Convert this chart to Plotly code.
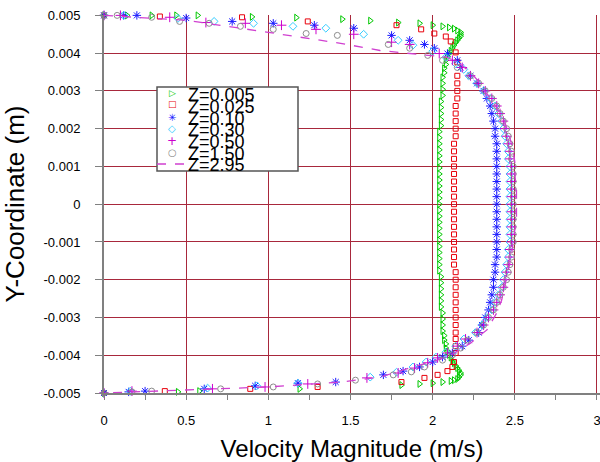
import plotly.graph_objects as go

# ---------------- data (velocity magnitude in m/s vs y-coordinate in m) ----------------
# shared core nodes for the z = 0.025 ... 1.50 profiles
y_core = [0.0034, 0.0032, 0.0030, 0.0028, 0.0026, 0.0024, 0.0022, 0.0020, 0.0018, 0.0016,
          0.0014, 0.0012, 0.0010, 0.0008, 0.0006, 0.0004, 0.0002, 0.0000, -0.0002, -0.0004,
          -0.0006, -0.0008, -0.0010, -0.0012, -0.0014, -0.0016, -0.0018, -0.0020, -0.0022, -0.0024,
          -0.0026, -0.0028, -0.0030, -0.0032, -0.0034]

# z = 0.005
green_top_y = [0.00500, 0.00500, 0.00500, 0.00500, 0.00500, 0.00496, 0.00494, 0.00490, 0.00486, 0.00481,
               0.00479, 0.00474, 0.00471, 0.00468, 0.00465, 0.00460, 0.00455, 0.00450, 0.00445, 0.00440,
               0.00434, 0.00428, 0.00421, 0.00414, 0.00406, 0.00399, 0.00390, 0.00381, 0.00370, 0.00360,
               0.00348, 0.00336]
green_top_v = [0.00, 0.14, 0.29, 0.44, 0.57, 0.90, 1.17, 1.45, 1.62, 1.79,
               1.92, 2.00, 2.06, 2.10, 2.13, 2.15, 2.17, 2.17, 2.17, 2.16,
               2.15, 2.14, 2.13, 2.12, 2.11, 2.10, 2.09, 2.08, 2.08, 2.07,
               2.07, 2.06]
green_core_y = [0.00320, 0.00304, 0.00288, 0.00272, 0.00256, 0.00240, 0.00224, 0.00208, 0.00192, 0.00176,
                0.00160, 0.00144, 0.00128, 0.00112, 0.00096, 0.00080, 0.00064, 0.00048, 0.00032, 0.00016,
                0.0,
                -0.00016, -0.00032, -0.00048, -0.00064, -0.00080, -0.00096, -0.00112, -0.00128, -0.00144, -0.00160,
                -0.00176, -0.00192, -0.00208, -0.00224, -0.00240, -0.00256, -0.00272, -0.00288, -0.00304, -0.00320]
green_core_v = [2.06, 2.06, 2.06, 2.05, 2.05, 2.05, 2.05, 2.05, 2.04, 2.04,
                2.04, 2.04, 2.04, 2.04, 2.04, 2.04, 2.04, 2.04, 2.04, 2.04,
                2.04,
                2.04, 2.04, 2.04, 2.04, 2.04, 2.04, 2.04, 2.04, 2.04, 2.04,
                2.04, 2.05, 2.05, 2.05, 2.05, 2.05, 2.05, 2.06, 2.06, 2.06]
green_bot_y = [-0.00336, -0.00348, -0.00360, -0.00370, -0.00381, -0.00390, -0.00399, -0.00406, -0.00414, -0.00421,
               -0.00428, -0.00434, -0.00440, -0.00447, -0.00452, -0.00458, -0.00463, -0.00466, -0.00468, -0.00471,
               -0.00474, -0.00476, -0.00479, -0.00489, -0.00495, -0.00497, -0.00500]
green_bot_v = [2.06, 2.07, 2.07, 2.08, 2.08, 2.09, 2.10, 2.11, 2.12, 2.13,
               2.14, 2.15, 2.16, 2.17, 2.17, 2.16, 2.15, 2.13, 2.11, 2.06,
               2.00, 1.92, 1.81, 1.19, 0.58, 0.45, 0.00]

# z = 0.025
red_top_y = [0.00500, 0.00497, 0.00495, 0.00484, 0.00474, 0.00463, 0.00452, 0.00444, 0.00431, 0.00402, 0.00376]
red_top_v = [0.00, 0.34, 0.84, 1.24, 1.78, 1.93, 2.01, 2.08, 2.11, 2.14, 2.15]
red_core_v = [2.15, 2.15, 2.15, 2.15, 2.14, 2.14, 2.14, 2.14, 2.14, 2.13,
              2.13, 2.13, 2.13, 2.13, 2.13, 2.13, 2.13, 2.13, 2.13, 2.13,
              2.13, 2.13, 2.13, 2.13, 2.13, 2.13, 2.14, 2.14, 2.14, 2.14,
              2.14, 2.14, 2.14, 2.14, 2.14]
red_bot_y = [-0.00357, -0.00376, -0.00394, -0.00418, -0.00431, -0.00442, -0.00452, -0.00460, -0.00471, -0.00484,
             -0.00489, -0.00495, -0.00500]
red_bot_v = [2.14, 2.14, 2.14, 2.13, 2.12, 2.09, 2.03, 1.95, 1.81, 1.30, 0.89, 0.37, 0.00]

# z = 0.10
blue_top_y = [0.00500, 0.00500, 0.00500, 0.00493, 0.00484, 0.00479, 0.00474, 0.00466, 0.00447, 0.00434,
              0.00423, 0.00413, 0.00399, 0.00381, 0.00362]
blue_top_v = [0.00, 0.12, 0.20, 0.50, 0.78, 1.03, 1.28, 1.52, 1.75, 1.86, 1.95, 2.01, 2.09, 2.15, 2.17]
blue_core_v = [2.23, 2.27, 2.31, 2.33, 2.35, 2.36, 2.37, 2.38, 2.38, 2.39,
               2.39, 2.39, 2.39, 2.39, 2.39, 2.39, 2.39, 2.39, 2.39, 2.39,
               2.39, 2.39, 2.39, 2.39, 2.39, 2.38, 2.38, 2.37, 2.37, 2.36,
               2.35, 2.34, 2.32, 2.30, 2.28]
blue_bot_y = [-0.00360, -0.00376, -0.00394, -0.00405, -0.00418, -0.00431, -0.00442, -0.00452, -0.00471, -0.00474,
              -0.00481, -0.00489, -0.00495, -0.00497, -0.00500]
blue_bot_v = [2.22, 2.18, 2.12, 2.06, 2.00, 1.92, 1.82, 1.70, 1.41, 1.18, 0.92, 0.61, 0.25, 0.15, 0.00]

# z = 0.30
cyan_top_y = [0.00500, 0.00500, 0.00492, 0.00484, 0.00479, 0.00471, 0.00466, 0.00450, 0.00434, 0.00421,
              0.00405, 0.00389, 0.00372, 0.00357]
cyan_top_v = [0.00, 0.12, 0.45, 0.67, 0.91, 1.15, 1.35, 1.58, 1.79, 1.88, 2.00, 2.08, 2.14, 2.19]
cyan_core_v = [2.22, 2.27, 2.31, 2.35, 2.38, 2.40, 2.42, 2.43, 2.44, 2.45,
               2.46, 2.46, 2.47, 2.47, 2.47, 2.47, 2.47, 2.47, 2.47, 2.47,
               2.47, 2.47, 2.47, 2.46, 2.46, 2.45, 2.44, 2.43, 2.42, 2.40,
               2.38, 2.36, 2.33, 2.30, 2.26]
cyan_bot_y = [-0.00357, -0.00376, -0.00392, -0.00405, -0.00418, -0.00431, -0.00445, -0.00458, -0.00474, -0.00481,
              -0.00487, -0.00495, -0.00500]
cyan_bot_v = [2.19, 2.14, 2.08, 2.02, 1.96, 1.88, 1.78, 1.62, 1.18, 0.93, 0.63, 0.16, 0.00]

# z = 0.50
mag_top_y = [0.00500, 0.00500, 0.00495, 0.00481, 0.00479, 0.00474, 0.00463, 0.00450, 0.00429, 0.00423,
             0.00399, 0.00381, 0.00362]
mag_top_v = [0.00, 0.10, 0.40, 0.62, 0.86, 1.08, 1.29, 1.52, 1.75, 1.86, 2.04, 2.12, 2.18]
mag_core_v = [2.23, 2.28, 2.32, 2.36, 2.39, 2.41, 2.43, 2.44, 2.45, 2.46,
              2.47, 2.47, 2.48, 2.48, 2.48, 2.48, 2.48, 2.48, 2.48, 2.48,
              2.48, 2.48, 2.48, 2.47, 2.47, 2.46, 2.45, 2.44, 2.43, 2.41,
              2.39, 2.37, 2.34, 2.31, 2.27]
mag_bot_y = [-0.00357, -0.00376, -0.00394, -0.00407, -0.00420, -0.00434, -0.00447, -0.00460, -0.00476, -0.00484,
             -0.00489, -0.00495, -0.00500]
mag_bot_v = [2.20, 2.15, 2.09, 2.03, 1.97, 1.89, 1.79, 1.60, 1.24, 0.98, 0.66, 0.17, 0.00]

# z = 1.50
gray_top_y = [0.00500, 0.00500, 0.00495, 0.00484, 0.00479, 0.00471, 0.00463, 0.00452, 0.00447, 0.00423,
              0.00413, 0.00394, 0.00381, 0.00362]
gray_top_v = [0.00, 0.08, 0.29, 0.46, 0.64, 0.83, 1.03, 1.23, 1.42, 1.73, 1.86, 1.97, 2.06, 2.15]
gray_core_v = [2.23, 2.28, 2.32, 2.36, 2.39, 2.41, 2.43, 2.45, 2.46, 2.47,
               2.48, 2.48, 2.49, 2.49, 2.49, 2.49, 2.49, 2.49, 2.49, 2.49,
               2.49, 2.49, 2.49, 2.48, 2.48, 2.47, 2.46, 2.45, 2.43, 2.41,
               2.39, 2.37, 2.34, 2.31, 2.27]
gray_bot_y = [-0.00360, -0.00381, -0.00399, -0.00413, -0.00431, -0.00444, -0.00452, -0.00466, -0.00476, -0.00484,
              -0.00489, -0.00495, -0.00497, -0.00500]
gray_bot_v = [2.21, 2.17, 2.12, 2.06, 1.95, 1.87, 1.76, 1.53, 1.30, 1.03, 0.71, 0.29, 0.17, 0.00]

# z = 2.95 (dashed line)
dash_y = [0.00500, 0.00487, 0.00455, 0.00426, 0.00407, 0.00397, 0.00389, 0.00370, 0.00349, 0.00325,
          0.00302, 0.00278, 0.00254, 0.00230, 0.00204, 0.00175, 0.00143, 0.00110, 0.00077, 0.00040,
          0.0, -0.00040, -0.00095, -0.00135, -0.00175, -0.00215, -0.00254, -0.00288, -0.00333, -0.00368,
          -0.00405, -0.00431, -0.00458, -0.00471, -0.00484, -0.00492, -0.00500]
dash_v = [0.00, 0.50, 1.00, 1.44, 1.68, 1.92, 2.09, 2.17, 2.23, 2.28,
          2.31, 2.36, 2.39, 2.43, 2.45, 2.47, 2.49, 2.50, 2.50, 2.51,
          2.51, 2.51, 2.49, 2.48, 2.46, 2.44, 2.42, 2.39, 2.33, 2.23,
          2.09, 1.88, 1.68, 1.44, 1.00, 0.50, 0.00]

series_names = ["Z=0.005", "Z=0.025", "Z=0.10", "Z=0.30", "Z=0.50", "Z=1.50", "Z=2.95"]
x_ticks = [0, 0.5, 1, 1.5, 2, 2.5, 3]
x_tick_text = ["0", "0.5", "1", "1.5", "2", "2.5", "3"]
y_ticks = [0.005, 0.004, 0.003, 0.002, 0.001, 0.0, -0.001, -0.002, -0.003, -0.004, -0.005]
y_tick_text = ["0.005", "0.004", "0.003", "0.002", "0.001", "0", "-0.001", "-0.002", "-0.003", "-0.004", "-0.005"]

# ---------------- figure ----------------
FONT = "Arial, 'Liberation Sans', sans-serif"
fig = go.Figure()


def add_markers(v, y, symbol, color, name, size=6):
    fig.add_trace(go.Scatter(
        x=v, y=y, mode="markers", name=name, cliponaxis=False, showlegend=False,
        marker=dict(symbol=symbol, size=size, color=color, line=dict(color=color, width=1)),
    ))


add_markers(green_top_v + green_core_v + green_bot_v, green_top_y + green_core_y + green_bot_y,
            "triangle-right-open", "#00c800", series_names[0])
add_markers(red_top_v + red_core_v + red_bot_v, red_top_y + y_core + red_bot_y,
            "square-open", "#e8000b", series_names[1], 5)
add_markers(blue_top_v + blue_core_v + blue_bot_v, blue_top_y + y_core + blue_bot_y,
            "asterisk-open", "#1a1aff", series_names[2], 7)
add_markers(cyan_top_v + cyan_core_v + cyan_bot_v, cyan_top_y + y_core + cyan_bot_y,
            "diamond-open", "#33ccff", series_names[3])
add_markers(mag_top_v + mag_core_v + mag_bot_v, mag_top_y + y_core + mag_bot_y,
            "cross-thin-open", "#cc00cc", series_names[4], 7)
add_markers(gray_top_v + gray_core_v + gray_bot_v, gray_top_y + y_core + gray_bot_y,
            "circle-open", "#8c8c8c", series_names[5])
fig.add_trace(go.Scatter(
    x=dash_v, y=dash_y, mode="lines", name=series_names[6], cliponaxis=False, showlegend=False,
    line=dict(color="#d040d0", width=1.3, dash="dash"),
))

# ---------------- manual legend box (paper coordinates) ----------------
# plot area spans x pixels 104..600 (x=3 sits at ~597), y pixels 15..393
L, R, T, B = 104, 600, 15, 393
X_MAX = 3.0183


def px(xp):
    return (xp - L) / (R - L)


def py(yp):
    return (B - yp) / (B - T)


fig.add_shape(type="rect", xref="paper", yref="paper",
              x0=px(157), x1=px(298), y0=py(171), y1=py(87),
              line=dict(color="#555555", width=1.5), fillcolor="white", layer="above")

text_rows = [95, 106.5, 118.5, 130, 141.5, 153.5, 165]
glyph_rows = [93, 104, 117, 128, 141, 152]
glyphs = ["▷", "□", "✳", "◇", "+", "○"]
glyph_colors = ["#00c800", "#e8000b", "#1a1aff", "#33ccff", "#cc00cc", "#8c8c8c"]
glyph_sizes = [9, 9, 10, 10, 12, 10]
for name, r in zip(series_names, text_rows):
    fig.add_annotation(xref="paper", yref="paper", x=px(186), y=py(r), text=name,
                       showarrow=False, xanchor="left", yanchor="middle",
                       font=dict(family=FONT, size=18, color="black"))
for g, c, s, r in zip(glyphs, glyph_colors, glyph_sizes, glyph_rows):
    fig.add_annotation(xref="paper", yref="paper", x=px(172), y=py(r), text=g,
                       showarrow=False, xanchor="center", yanchor="middle",
                       font=dict(family="DejaVu Sans", size=s, color=c))
fig.add_shape(type="line", xref="paper", yref="paper",
              x0=px(157), x1=px(184), y0=py(164), y1=py(164),
              line=dict(color="#d040d0", width=1.5, dash="dash"), layer="above")

GRID = "#a8283c"
AX = "#808080"
fig.update_layout(
    width=600, height=462,
    margin=dict(l=L, r=600 - R, t=T, b=462 - B),
    paper_bgcolor="white", plot_bgcolor="white",
    font=dict(family=FONT, color="black"),
    showlegend=False,
    xaxis=dict(
        range=[0, X_MAX], tickvals=x_ticks, ticktext=x_tick_text,
        showgrid=True, gridcolor=GRID, gridwidth=1, zeroline=False,
        showline=True, linecolor=AX, linewidth=2,
        ticks="outside", ticklen=5, tickcolor=AX, tickwidth=1,
        minor=dict(dtick=0.25, tick0=0, ticks="outside", ticklen=5, tickcolor=AX, showgrid=False),
        tickfont=dict(family=FONT, size=13, color="black"),
        ticklabelstandoff=9, ticklabeloverflow="allow",
        title=dict(text="Velocity Magnitude (m/s)", font=dict(family=FONT, size=24, color="black"),
                   standoff=14),
    ),
    yaxis=dict(
        range=[-0.005, 0.00501], tickvals=y_ticks, ticktext=y_tick_text,
        showgrid=True, gridcolor=GRID, gridwidth=1, zeroline=False,
        showline=True, linecolor=AX, linewidth=2,
        ticks="outside", ticklen=7, tickcolor=AX, tickwidth=1,
        tickfont=dict(family=FONT, size=13, color="black"),
        ticklabelstandoff=12,
        title=dict(text="Y-Coordinate (m)", font=dict(family=FONT, size=26, color="black"),
                   standoff=12),
    ),
)

fig.write_html("out.html")
